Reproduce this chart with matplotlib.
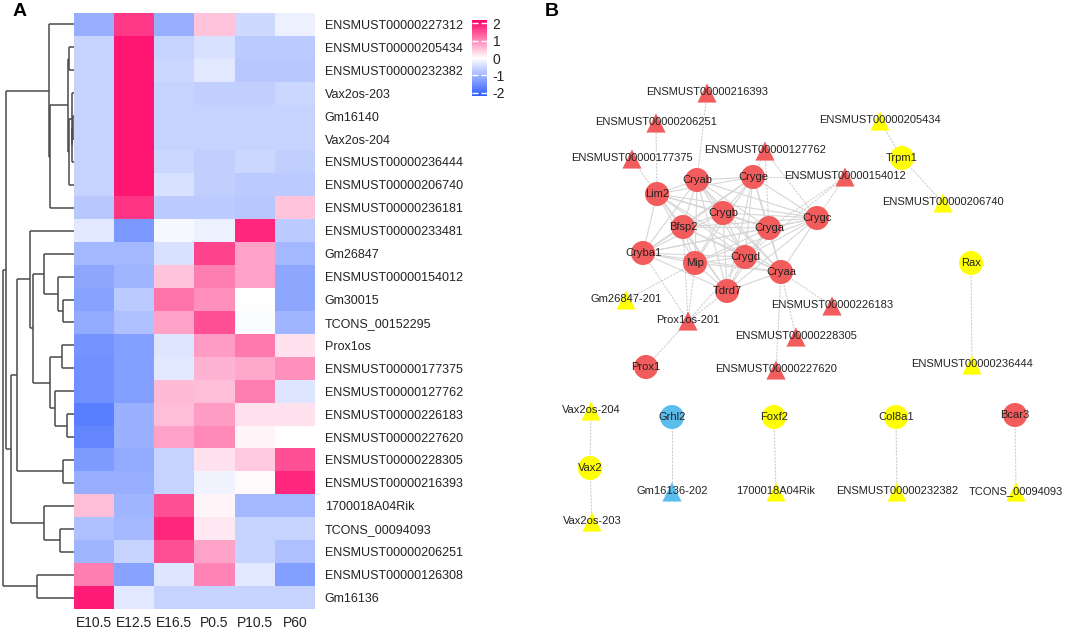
import matplotlib
matplotlib.use("Agg")
import matplotlib.pyplot as plt
import numpy as np
from matplotlib.colors import LinearSegmentedColormap

plt.rcParams['font.family'] = ['Liberation Sans', 'DejaVu Sans']
plt.rcParams['axes.unicode_minus'] = False

# ---------------- Panel A data ----------------
stages = ["E10.5", "E12.5", "E16.5", "P0.5", "P10.5", "P60"]
transcripts = ["ENSMUST00000227312", "ENSMUST00000205434", "ENSMUST00000232382",
               "Vax2os-203", "Gm16140", "Vax2os-204", "ENSMUST00000236444",
               "ENSMUST00000206740", "ENSMUST00000236181", "ENSMUST00000233481",
               "Gm26847", "ENSMUST00000154012", "Gm30015", "TCONS_00152295",
               "Prox1os", "ENSMUST00000177375", "ENSMUST00000127762",
               "ENSMUST00000226183", "ENSMUST00000227620", "ENSMUST00000228305",
               "ENSMUST00000216393", "1700018A04Rik", "TCONS_00094093",
               "ENSMUST00000206251", "ENSMUST00000126308", "Gm16136"]
zscores = [
    [-1.10, 1.70, -1.10, 0.50, -0.50, -0.20],
    [-0.60, 2.00, -0.60, -0.40, -0.70, -0.70],
    [-0.60, 2.00, -0.55, -0.30, -0.75, -0.75],
    [-0.60, 2.00, -0.60, -0.65, -0.65, -0.55],
    [-0.60, 2.00, -0.60, -0.60, -0.60, -0.60],
    [-0.60, 2.00, -0.60, -0.60, -0.60, -0.60],
    [-0.60, 2.00, -0.55, -0.65, -0.55, -0.65],
    [-0.60, 2.00, -0.40, -0.65, -0.70, -0.70],
    [-0.75, 1.75, -0.70, -0.70, -0.75, 0.50],
    [-0.30, -1.40, -0.10, -0.20, 1.85, -0.70],
    [-0.95, -0.95, -0.40, 1.60, 0.80, -0.95],
    [-1.20, -1.00, 0.50, 1.10, 0.80, -1.20],
    [-1.25, -0.70, 1.20, 0.95, 0.00, -1.20],
    [-1.15, -0.85, 0.80, 1.50, -0.05, -1.00],
    [-1.45, -1.30, -0.35, 0.85, 1.15, 0.25],
    [-1.50, -1.30, -0.30, 0.65, 0.75, 0.95],
    [-1.50, -1.30, 0.60, 0.55, 1.10, -0.35],
    [-1.75, -1.05, 0.55, 0.85, 0.25, 0.25],
    [-1.65, -1.05, 0.80, 1.00, 0.10, 0.00],
    [-1.35, -1.15, -0.60, 0.25, 0.45, 1.50],
    [-1.10, -1.10, -0.60, -0.15, 0.05, 1.85],
    [0.55, -1.00, 1.50, 0.10, -0.95, -0.95],
    [-0.85, -0.95, 1.85, 0.20, -0.60, -0.60],
    [-1.00, -0.60, 1.50, 0.80, -0.60, -0.85],
    [1.10, -1.25, -0.35, 1.05, -0.30, -1.30],
    [1.95, -0.30, -0.60, -0.60, -0.60, -0.60],
]
# row dendrogram: (merge height, left, right); leaves are row indices
top_clade = (25, 0, (24, (6, (4.7, 1, 2), (5, (2.3, 3, (1.7, (1.0, 4, 5), 6)), 7)), 8))
mid_clade = (63.3, (56.7, (44, 9, (41, (29.7, 10, (16.3, 11, (11, 12, 13))),
                                   (24, (12.3, 14, 15), (19, 16, (7.3, 17, 18))))),
                    (11.3, 19, 20)),
             (29.7, 21, (14, 22, 23)))
row_tree = (71.3, (68, top_clade, mid_clade), (37.3, 24, 25))

# ---------------- Panel B data ----------------
node_names = ["ENSMUST00000216393", "ENSMUST00000206251", "ENSMUST00000177375",
              "ENSMUST00000127762", "ENSMUST00000154012", "ENSMUST00000205434",
              "Trpm1", "ENSMUST00000206740",
              "Cryab", "Cryge", "Lim2", "Crygb", "Crygc", "Bfsp2", "Cryga",
              "Cryba1", "Mip", "Crygd", "Cryaa", "Tdrd7",
              "Gm26847-201", "Prox1os-201", "ENSMUST00000226183",
              "ENSMUST00000228305", "Prox1", "ENSMUST00000227620",
              "Rax", "ENSMUST00000236444",
              "Vax2os-204", "Vax2", "Vax2os-203", "Grhl2", "Gm16136-202",
              "Foxf2", "1700018A04Rik", "Col8a1", "ENSMUST00000232382",
              "Bcar3", "TCONS_00094093"]
node_x = [707, 656, 632, 765, 845, 880, 902, 943,
          697, 753, 657, 723, 817, 683, 769,
          643, 695, 745, 781, 727,
          626, 688, 832, 796, 646, 776,
          971, 972,
          591, 590, 592, 672, 672, 774, 776, 896, 897, 1015, 1016]
node_y = [93, 123, 159, 151, 177, 121, 158, 203,
          180, 177, 194, 213, 218, 227, 228,
          253, 263, 257, 272, 291,
          300, 321, 306, 337, 367, 370,
          263, 365,
          411, 468, 522, 417, 492, 417, 492, 417, 492, 415, 492]
node_shape = ["^", "^", "^", "^", "^", "^", "o", "^",
              "o", "o", "o", "o", "o", "o", "o",
              "o", "o", "o", "o", "o",
              "^", "^", "^", "^", "o", "^",
              "o", "^",
              "^", "o", "^", "o", "^", "o", "^", "o", "^", "o", "^"]
node_group = ["up", "up", "up", "up", "up", "mid", "mid", "mid",
              "up", "up", "up", "up", "up", "up", "up",
              "up", "up", "up", "up", "up",
              "mid", "up", "up", "up", "up", "up",
              "mid", "mid",
              "mid", "mid", "mid", "down", "down", "mid", "mid", "mid", "mid", "up", "mid"]
label_dy = {"^": -1, "o": 0}
lens_genes = ["Cryab", "Cryge", "Lim2", "Crygb", "Crygc", "Bfsp2", "Cryga",
              "Cryba1", "Mip", "Crygd", "Cryaa", "Tdrd7"]
lnc_edges = [("ENSMUST00000216393", "Cryab"), ("ENSMUST00000206251", "Lim2"),
             ("ENSMUST00000177375", "Lim2"), ("ENSMUST00000127762", "Cryge"),
             ("ENSMUST00000127762", "Crygc"), ("ENSMUST00000127762", "Cryga"),
             ("ENSMUST00000154012", "Crygc"), ("ENSMUST00000154012", "Cryga"),
             ("ENSMUST00000154012", "Cryge"), ("ENSMUST00000154012", "Crygd"),
             ("ENSMUST00000205434", "Trpm1"), ("Trpm1", "ENSMUST00000206740"),
             ("Gm26847-201", "Mip"), ("Prox1os-201", "Prox1"), ("Prox1os-201", "Mip"),
             ("Prox1os-201", "Cryba1"), ("Prox1os-201", "Tdrd7"), ("Prox1os-201", "Bfsp2"),
             ("Prox1os-201", "Crygd"),
             ("Cryaa", "ENSMUST00000226183"), ("Cryaa", "ENSMUST00000228305"),
             ("Cryaa", "ENSMUST00000227620"),
             ("Rax", "ENSMUST00000236444"), ("Vax2", "Vax2os-204"), ("Vax2", "Vax2os-203"),
             ("Grhl2", "Gm16136-202"), ("Foxf2", "1700018A04Rik"),
             ("Col8a1", "ENSMUST00000232382"), ("Bcar3", "TCONS_00094093")]

W, H = 1065, 630
fig = plt.figure(figsize=(W / 100, H / 100), dpi=100)

# ---------------- heatmap ----------------
hm_left, hm_right, hm_top, hm_bot = 74, 315, 13, 609
cmap = LinearSegmentedColormap.from_list("bwr2", ["#2F5EFF", "#FFFFFF", "#FF0066"])
ax = fig.add_axes([hm_left / W, 1 - hm_bot / H, (hm_right - hm_left) / W, (hm_bot - hm_top) / H])
data = np.array(zscores)
im = ax.imshow(data, cmap=cmap, vmin=-2.2, vmax=2.2, aspect="auto", interpolation="nearest")
ax.set_xticks(range(len(stages)))
ax.set_xticklabels(stages, fontsize=10, color="#222222")
ax.set_yticks(range(len(transcripts)))
ax.set_yticklabels(transcripts, fontsize=9, color="#222222")
ax.yaxis.tick_right()
ax.tick_params(length=0, axis="y", pad=7)
ax.tick_params(length=0, axis="x", pad=5)
for s in ax.spines.values():
    s.set_visible(False)

# ---------------- dendrogram ----------------
dax = fig.add_axes([0, 1 - hm_bot / H, hm_left / W, (hm_bot - hm_top) / H])
dax.set_xlim(74, 0)
dax.set_ylim(len(transcripts), 0)
dax.axis("off")
dcol = "#4A4A4A"

def draw(node):
    if isinstance(node, int):
        return node + 0.5, 0.0
    h, l, r = node
    yl, hl = draw(l)
    yr, hr = draw(r)
    dax.plot([h, h], [yl, yr], color=dcol, lw=1.1, solid_capstyle="butt")
    dax.plot([hl, h], [yl, yl], color=dcol, lw=1.1, solid_capstyle="butt")
    dax.plot([hr, h], [yr, yr], color=dcol, lw=1.1, solid_capstyle="butt")
    return (yl + yr) / 2, h

draw(row_tree)

# ---------------- colorbar ----------------
cax = fig.add_axes([472 / W, 1 - 96 / H, 15 / W, 76 / H])
cb = fig.colorbar(im, cax=cax, ticks=[-2, -1, 0, 1, 2])
cb.outline.set_visible(False)
cax.tick_params(axis="y", direction="in", color="white", length=4, width=1,
                labelsize=10, pad=4, left=True, labelcolor="#222222")

# ---------------- network ----------------
nax = fig.add_axes([0, 0, 1, 1])
nax.set_xlim(0, W)
nax.set_ylim(H, 0)
nax.axis("off")
nax.patch.set_alpha(0)
pos = {n: (x, y) for n, x, y in zip(node_names, node_x, node_y)}
colors = {"up": "#F25C5C", "mid": "#FFFF00", "down": "#5BBDEB"}

for i, a in enumerate(lens_genes):
    for b in lens_genes[i + 1:]:
        nax.plot([pos[a][0], pos[b][0]], [pos[a][1], pos[b][1]],
                 color="#D6D6D6", lw=0.8, zorder=1)
for a, b in lnc_edges:
    nax.plot([pos[a][0], pos[b][0]], [pos[a][1], pos[b][1]],
             color="#D0D0D0", lw=0.8, ls=(0, (2, 1)), zorder=1)

for n, x, y, m, g in zip(node_names, node_x, node_y, node_shape, node_group):
    nax.scatter([x], [y], marker=m, s=300 if m == "o" else 190,
                color=colors[g], edgecolors="none", zorder=2)
    nax.text(x, y + label_dy[m], n, ha="center", va="center", fontsize=8,
             color="#222222", zorder=3)

fig.text(13 / W, 1 - 12 / H, "A", fontsize=14, fontweight="bold", va="center", ha="left")
fig.text(545 / W, 1 - 12 / H, "B", fontsize=14, fontweight="bold", va="center", ha="left")

fig.savefig("out.png", dpi=100)
